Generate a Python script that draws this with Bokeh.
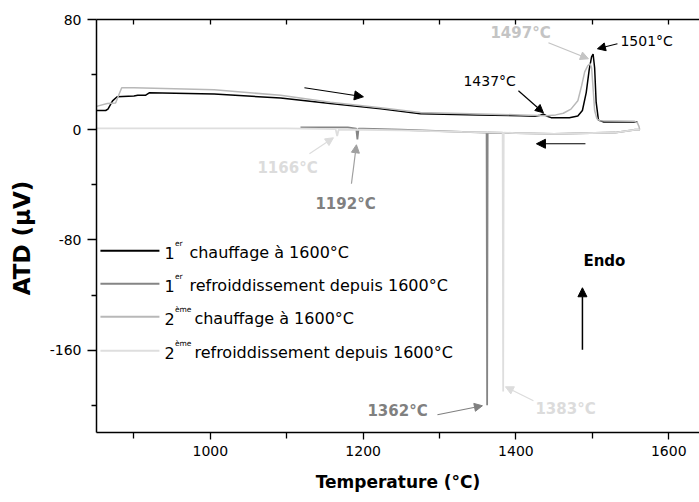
from bokeh.plotting import figure
from bokeh.models import (Range1d, LinearAxis, FixedTicker, Label, Arrow, NormalHead,
                          CustomJSTickFormatter)
from bokeh.embed import file_html
from bokeh.resources import INLINE

# ---------------- data ----------------
heat1_T = [851, 863, 866, 872, 878, 900, 905, 915, 920, 1005, 1092, 1157, 1223, 1275, 1350,
           1406, 1425, 1432, 1436, 1441, 1446, 1470, 1481, 1487, 1492, 1496, 1499, 1501,
           1503, 1505, 1508, 1515, 1559]
heat1_V = [14, 14, 15, 21, 24, 24.5, 25, 25, 26.8, 26, 23, 19, 15.3, 11.6, 10.8,
           10.2, 9.8, 10.6, 11.4, 9.8, 8.8, 8.8, 10, 14, 27, 44, 53, 55,
           45, 20, 7, 5.6, 5.6]

heat2_T = [851, 865, 876, 880, 884, 900, 1005, 1092, 1157, 1223, 1275, 1406, 1440, 1452,
           1462, 1472, 1481, 1486, 1490, 1494, 1497, 1499, 1501, 1503, 1506, 1510, 1555,
           1559, 1561, 1562]
heat2_V = [17, 19, 19.5, 25, 30.5, 30.5, 29, 25, 20, 16, 12.6, 10.8, 10.2, 10.8,
           12, 15, 21, 32, 42, 46.5, 48, 45, 30, 14, 8, 6.5, 6.2,
           5, 2.5, 0]

cool1_T = [1562, 1555, 1530, 1450, 1400, 1363, 1362.3, 1361.6, 1330, 1250, 1200, 1194, 1192.5,
           1191, 1180, 1118]
cool1_V = [0, 0, -2, -3, -2.5, -2, -200, -2, -1.5, 0, 0.8, 0.8, -7,
           0.8, 1.8, 1.8]

cool2_T = [1562, 1555, 1530, 1450, 1400, 1384, 1383.3, 1382.6, 1330, 1250, 1200, 1168, 1166,
           1164, 1100, 1000, 900, 851]
cool2_V = [0, 0, -2, -3, -2.5, -2, -190, -2, -1.5, -0.5, 0, 0.2, -4.5,
           0.5, 1, 1, 1, 1]

x_ticks = [1000, 1200, 1400, 1600]
x_minor = [900, 1100, 1300, 1500]
y_ticks = [-160, -80, 0, 80]
y_minor = [-200, -120, -40, 40]

C_H1, C_C1, C_H2, C_C2 = "#000000", "#858585", "#b8b8b8", "#dedede"

# ---------------- figure ----------------
X0 = 851.0
X1 = X0 + 603 / 0.764
Y1 = 80.05
Y0 = Y1 - 413 / 1.3775
p = figure(width=699, height=502, x_range=Range1d(X0, X1), y_range=Range1d(Y0, Y1),
           output_backend="svg", toolbar_location=None,
           min_border_left=96, min_border_right=0, min_border_top=19, min_border_bottom=70)
p.grid.visible = False
p.outline_line_color = None
p.background_fill_color = "white"
p.border_fill_color = "white"

# reference pixel -> data helpers (for annotation placement only)
def X(px):
    return 1200 + (px - 362.7) / 0.764

def Y(py):
    return (129 - py) / 1.3775

TICK_FONT = "DejaVu Sans"

xa = p.xaxis[0]
xa.ticker = FixedTicker(ticks=x_ticks, minor_ticks=x_minor)
xa.formatter = CustomJSTickFormatter(code="return tick.toString()")
xa.major_tick_in = 0
xa.major_tick_out = 7
xa.minor_tick_in = 0
xa.minor_tick_out = 6
xa.axis_line_width = 1.5
xa.major_tick_line_width = 1.3
xa.minor_tick_line_width = 1.3
xa.major_label_text_font = TICK_FONT
xa.major_label_text_font_size = "14px"
xa.major_label_text_color = "black"
xa.major_label_standoff = 6
xa.axis_label = "Temperature (°C)"
xa.axis_label_text_font = "DejaVu Sans"
xa.axis_label_text_font_style = "bold"
xa.axis_label_text_font_size = "17px"
xa.axis_label_text_color = "black"
xa.axis_label_standoff = 13

ya = p.yaxis[0]
ya.ticker = FixedTicker(ticks=y_ticks, minor_ticks=y_minor)
ya.formatter = CustomJSTickFormatter(code="return tick.toString()")
ya.major_tick_in = 0
ya.major_tick_out = 9
ya.minor_tick_in = 0
ya.minor_tick_out = 5
ya.axis_line_width = 1.5
ya.major_tick_line_width = 1.3
ya.minor_tick_line_width = 1.3
ya.major_label_text_font = TICK_FONT
ya.major_label_text_font_size = "14px"
ya.major_label_text_color = "black"
ya.major_label_standoff = 6
ya.axis_label = "ATD (μV)\u00a0\u00a0\u00a0"
ya.axis_label_text_font = "DejaVu Sans"
ya.axis_label_text_font_style = "bold"
ya.axis_label_text_font_size = "23px"
ya.axis_label_text_color = "black"
ya.axis_label_standoff = 12

top = LinearAxis(ticker=FixedTicker(ticks=x_ticks + x_minor, minor_ticks=[]),
                 formatter=CustomJSTickFormatter(code="return ''"),
                 major_tick_in=5, major_tick_out=0, minor_tick_in=0, minor_tick_out=0,
                 major_label_standoff=0,
                 axis_line_width=1.5, major_tick_line_width=1.3)
p.add_layout(top, "above")

# ---------------- curves ----------------
p.line(heat1_T, heat1_V, line_color=C_H1, line_width=1.5)
p.line(cool1_T, cool1_V, line_color=C_C1, line_width=1.8)
p.line(heat2_T, heat2_V, line_color=C_H2, line_width=1.5)
p.line(cool2_T, cool2_V, line_color=C_C2, line_width=1.8)

# ---------------- annotations ----------------
def arrow(x0, y0, x1, y1, c, size=8, w=1.2):
    p.add_layout(Arrow(end=NormalHead(size=size, fill_color=c, line_color=c),
                       x_start=X(x0), y_start=Y(y0), x_end=X(x1), y_end=Y(y1),
                       line_color=c, line_width=w))

def label(px, py, txt, c, size="14px", bold=False, align="left"):
    p.add_layout(Label(x=X(px), y=Y(py), text=txt, text_color=c, text_font="DejaVu Sans",
                       text_font_size=size, text_font_style="bold" if bold else "normal",
                       text_align=align, text_baseline="middle"))

label(463, 80, "1437°C", "black")
arrow(518, 90, 543, 112, "black")
label(620, 40, "1501°C", "black")
arrow(617, 43, 597, 48, "black")
label(490, 32, "1497°C", "#c4c4c4", "15px", True)
arrow(548, 42, 588, 58, "#c4c4c4")
label(257, 167, "1166°C", "#dcdcdc", "15px", True)
arrow(309, 153, 333, 137, "#dcdcdc")
label(315, 203, "1192°C", "#808080", "15px", True)
arrow(351, 183, 356, 144, "#a0a0a0")
label(367, 410, "1362°C", "#808080", "15px", True)
arrow(437, 414, 482, 405, "#808080")
label(535, 408, "1383°C", "#dcdcdc", "15px", True)
arrow(533, 400, 505, 386, "#dcdcdc")

# direction arrows
arrow(304, 87, 363, 96, "black", 9)
arrow(585, 143, 536, 143, "black", 9)
label(583, 260, "Endo", "black", "15px", True)
arrow(582, 349, 582, 287, "black", 9, 1.5)

# ---------------- legend (manual, for superscripts) ----------------
legend_rows = [
    ("1", "er", "chauffage à 1600°C", C_H1, 250),
    ("1", "er", "refroiddissement depuis 1600°C", C_C1, 283),
    ("2", "ème", "chauffage à 1600°C", C_H2, 316),
    ("2", "ème", "refroiddissement depuis 1600°C", C_C2, 350),
]
for num, sup, txt, c, py in legend_rows:
    p.segment(x0=[X(100)], y0=[Y(py)], x1=[X(159)], y1=[Y(py)], line_color=c, line_width=1.8)
    label(164, py + 2, num, "black", "16px")
    label(174.5, py - 7, sup, "black", "7.5px")
    label(189 if sup == "er" else 194, py + 2, txt, "black", "16px")

open("out.html", "w").write(file_html(p, INLINE))
